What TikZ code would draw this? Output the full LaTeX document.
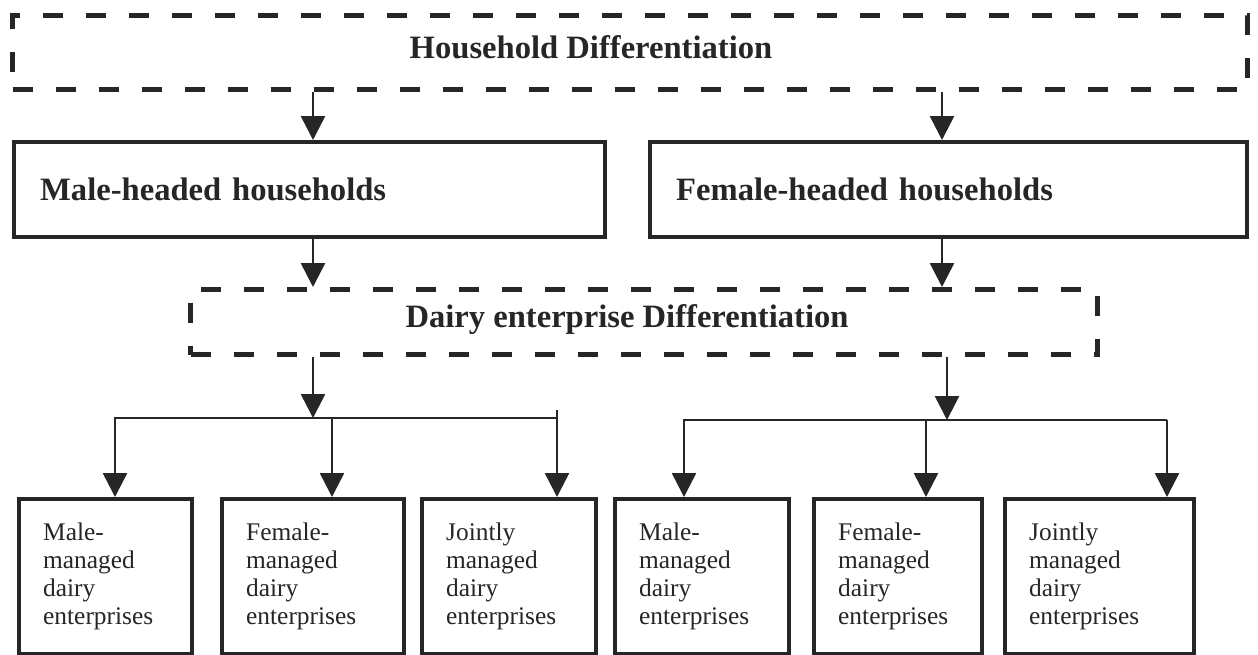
\documentclass[tikz,border=0pt]{standalone}
\usepackage{fontspec}
\setmainfont{Liberation Serif}
\usetikzlibrary{arrows.meta}
\begin{document}
\begin{tikzpicture}[x=0.5pt,y=-0.5pt,
 dbox/.style={draw=black!85, line width=2.5pt, dash pattern=on 10pt off 11.5pt, inner sep=0pt, anchor=north west},
 htext/.style={font=\fontsize{16.3}{19}\selectfont\bfseries, text=black!85, inner sep=0pt},
 hbox/.style={draw=black!85, line width=2.2pt, inner xsep=13pt, inner ysep=0pt, anchor=north west, minimum height=47.5pt, align=left, font=\fontsize{16.3}{19}\selectfont\bfseries, text=black!85},
 ebox/.style={draw=black!85, line width=2.2pt, anchor=north west, inner xsep=12pt, inner ysep=0pt, minimum height=77.5pt, align=left, font=\fontsize{12.7}{14}\selectfont, text=black!85},
 arr/.style={draw=black!85, line width=1.3pt, -{Triangle[width=12pt,length=12pt]}},
 ln/.style={draw=black!85, line width=1.3pt}]
\useasboundingbox (0,0) rectangle (1258,654);
% level 1
\node[dbox, minimum width=617.5pt, minimum height=37pt] (hd) at (10,13) {};
\node[htext] (hdt) at (591,47) {Household Differentiation};
% level 2
\node[hbox, text width=269.5pt] (mh) at (12,140) {Male-headed households};
\node[hbox, text width=272.5pt] (fh) at (648,140) {Female-headed households};
% level 3
\node[dbox, minimum width=453.5pt, minimum height=32.5pt] (dd) at (188,287) {};
\node[htext] (ddt) at (627,320) {Dairy enterprise Differentiation};
% level 4
\node[ebox, text width=62.5pt] (b1) at (17,497) {Male-\\managed\\dairy\\enterprises};
\node[ebox, text width=67pt] (b2) at (220,497) {Female-\\managed\\dairy\\enterprises};
\node[ebox, text width=63pt] (b3) at (420,497) {Jointly\\managed\\dairy\\enterprises};
\node[ebox, text width=63pt] (b4) at (613,497) {Male-\\managed\\dairy\\enterprises};
\node[ebox, text width=60pt] (b5) at (812,497) {Female-\\managed\\dairy\\enterprises};
\node[ebox, text width=70.5pt] (b6) at (1003,497) {Jointly\\managed\\dairy\\enterprises};
% coordinates
\coordinate (xa) at (313,0);
\coordinate (xb) at (942,0);
\coordinate (ja) at (313,418);
\coordinate (jb) at (947,420);
\coordinate (la) at (115,418);
\coordinate (lb) at (332,418);
\coordinate (lc) at (557,418);
\coordinate (lt) at (557,410);
\coordinate (ra) at (684,420);
\coordinate (rb) at (926,420);
\coordinate (rc) at (1167,420);
% connectors
\draw[arr] (hd.south -| xa) -- (mh.north -| xa);
\draw[arr] (hd.south -| xb) -- (fh.north -| xb);
\draw[arr] (mh.south -| xa) -- (dd.north -| xa);
\draw[arr] (fh.south -| xb) -- (dd.north -| xb);
\draw[arr] (dd.south -| ja) -- (ja);
\draw[arr] (dd.south -| jb) -- (jb);
\draw[arr, line join=miter] (lc) -- (la) -- (la |- b1.north);
\draw[arr] (lb) -- (lb |- b2.north);
\draw[arr] (lt) -- (lc |- b3.north);
\draw[arr, line join=miter] (rc) -- (ra) -- (ra |- b4.north);
\draw[arr] (rb) -- (rb |- b5.north);
\draw[arr] (rc) -- (rc |- b6.north);
\end{tikzpicture}
\end{document}
